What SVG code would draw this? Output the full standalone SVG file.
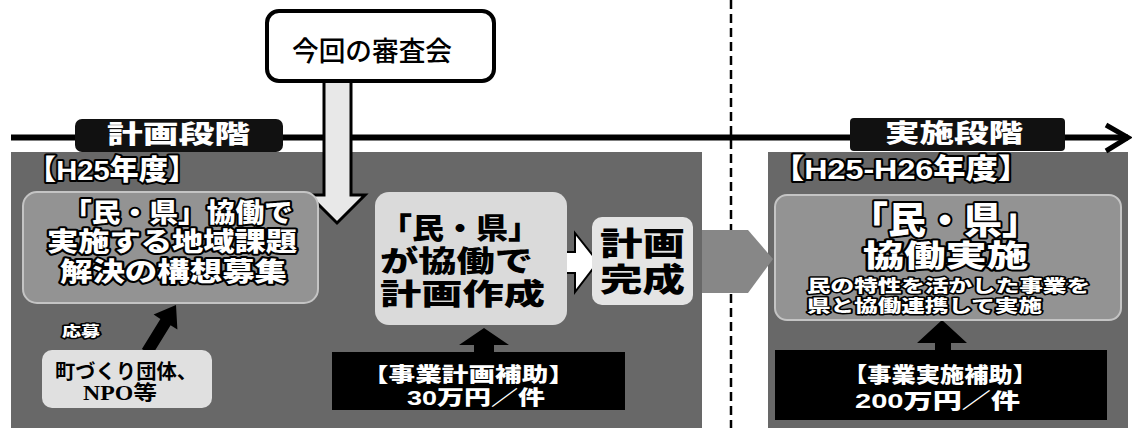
<svg xmlns="http://www.w3.org/2000/svg" width="1132" height="428" viewBox="0 0 1132 428">
<defs>
<style>
.jp{font-family:"Liberation Sans","Noto Sans CJK JP",sans-serif;font-weight:900}
.mincho{font-family:"Liberation Serif","Noto Sans CJK JP",serif;font-weight:700}
.outline{fill:#fff;stroke:#000;stroke-width:4;paint-order:stroke;stroke-linejoin:round}
.panel{fill:#686868}
.inner{fill:#939393;stroke:#c4c4c4;stroke-width:2}
.label{fill:#000}
.wt{fill:#fff}
</style>
</defs>
<rect x="0" y="0" width="1132" height="428" fill="#fff"/>

<g id="panels">
<rect class="panel" x="11" y="152" width="691" height="276"/>
<rect class="panel" x="768" y="152" width="360" height="276"/>
</g>

<g id="connectors">
<line x1="11" y1="137.5" x2="1128" y2="137.5" stroke="#000" stroke-width="6"/>
<polyline points="1106,125 1128,137.5 1106,151" fill="none" stroke="#000" stroke-width="5"/>
<line x1="731" y1="0" x2="731" y2="428" stroke="#000" stroke-width="2.5" stroke-dasharray="9,5"/>
<polygon points="324,81 351,81 351,195 365,195 337,223 309,195 324,195" fill="#e8e8e8" stroke="#000" stroke-width="3"/>
<polygon points="552,252 575,252 575,233 598,262 575,292 575,273 552,273" fill="#fff" stroke="#000" stroke-width="2"/>
<polygon points="702,230 748,230 773,259 748,293 702,293" fill="#878787"/>
<polygon points="141.9,348.9 160.4,318.9 153.6,314.6 176,305 177.4,329.4 170.6,325.2 152.1,355.2" fill="#000"/>
<polygon points="474,352 474,345 459,345 484,328 509,345 494,345 494,352" fill="#000"/>
<polygon points="935,350 935,343 917,343 942,320 967,343 951,343 951,350" fill="#000"/>
</g>

<g id="stage-plan">
<rect x="75" y="119" width="208" height="33" rx="7" fill="#111"/>
<text class="jp wt" x="107" y="143" font-size="25" textLength="143" lengthAdjust="spacingAndGlyphs">計画段階</text>
</g>

<g id="stage-impl">
<rect x="850" y="118" width="215" height="33" rx="4" fill="#111"/>
<text class="jp wt" x="885" y="142" font-size="25" textLength="138" lengthAdjust="spacingAndGlyphs">実施段階</text>
</g>

<g id="review">
<rect x="267" y="11" width="227" height="70" rx="12" fill="#fff" stroke="#000" stroke-width="4"/>
<text class="label" x="292" y="61" font-size="27" textLength="160" lengthAdjust="spacingAndGlyphs" style="font-family:'Noto Sans CJK JP',sans-serif;font-weight:500">今回の審査会</text>
</g>

<g id="year-h25">
<text class="jp outline" x="27" y="180" font-size="28" textLength="170" lengthAdjust="spacingAndGlyphs">【H25年度】</text>
</g>

<g id="concept">
<rect class="inner" x="23" y="192" width="295" height="111" rx="14"/>
<text class="jp outline" font-size="26">
<tspan x="63" y="222" textLength="230" lengthAdjust="spacingAndGlyphs">「民・県」協働で</tspan>
<tspan x="47" y="251" textLength="250" lengthAdjust="spacingAndGlyphs">実施する地域課題</tspan>
<tspan x="60" y="281" textLength="227" lengthAdjust="spacingAndGlyphs">解決の構想募集</tspan>
</text>
</g>

<g id="apply">
<text class="jp outline" x="62" y="336" font-size="14" textLength="38" lengthAdjust="spacingAndGlyphs" style="stroke-width:3">応募</text>
</g>

<g id="groups">
<rect x="42" y="350" width="170" height="58" rx="10" fill="#e0e0e0"/>
<text class="mincho label" font-size="20">
<tspan x="55" y="379" textLength="142" lengthAdjust="spacingAndGlyphs">町づくり団体、</tspan>
<tspan x="83" y="400" textLength="74" lengthAdjust="spacingAndGlyphs">NPO等</tspan>
</text>
</g>

<g id="plan-make">
<rect x="375" y="192" width="192" height="133" rx="14" fill="#dadada"/>
<text class="jp label" font-size="29">
<tspan x="380" y="239" textLength="160" lengthAdjust="spacingAndGlyphs">「民・県」</tspan>
<tspan x="380" y="272" textLength="153" lengthAdjust="spacingAndGlyphs">が協働で</tspan>
<tspan x="380" y="305" textLength="165" lengthAdjust="spacingAndGlyphs">計画作成</tspan>
</text>
</g>

<g id="plan-done">
<rect x="592" y="217" width="101" height="88" rx="10" fill="#e4e4e4"/>
<text class="jp label" font-size="32">
<tspan x="600" y="255" textLength="85" lengthAdjust="spacingAndGlyphs">計画</tspan>
<tspan x="600" y="291" textLength="85" lengthAdjust="spacingAndGlyphs">完成</tspan>
</text>
</g>

<g id="plan-subsidy">
<rect x="332" y="352" width="293" height="58" fill="#000"/>
<text class="jp wt" font-size="20">
<tspan x="362" y="382" textLength="213" lengthAdjust="spacingAndGlyphs">【事業計画補助】</tspan>
<tspan x="407" y="405" textLength="138" lengthAdjust="spacingAndGlyphs">30万円／件</tspan>
</text>
</g>

<g id="year-h25-h26">
<text class="jp outline" x="772" y="179" font-size="28" textLength="258" lengthAdjust="spacingAndGlyphs">【H25-H26年度】</text>
</g>

<g id="implement">
<rect class="inner" x="775" y="195" width="346" height="125" rx="12"/>
<text class="jp outline">
<tspan x="850" y="234" font-size="37" textLength="190" lengthAdjust="spacingAndGlyphs">「民・県」</tspan>
<tspan x="863" y="266" font-size="30" textLength="165" lengthAdjust="spacingAndGlyphs">協働実施</tspan>
<tspan x="807" y="292" font-size="17" textLength="283" lengthAdjust="spacingAndGlyphs" style="stroke-width:3">民の特性を活かした事業を</tspan>
<tspan x="807" y="312" font-size="17" textLength="235" lengthAdjust="spacingAndGlyphs" style="stroke-width:3">県と協働連携して実施</tspan>
</text>
</g>

<g id="impl-subsidy">
<rect x="775" y="350" width="332" height="70" fill="#000"/>
<text class="jp wt" font-size="21">
<tspan x="843" y="382" textLength="194" lengthAdjust="spacingAndGlyphs">【事業実施補助】</tspan>
<tspan x="855" y="408" textLength="165" lengthAdjust="spacingAndGlyphs">200万円／件</tspan>
</text>
</g>
</svg>
